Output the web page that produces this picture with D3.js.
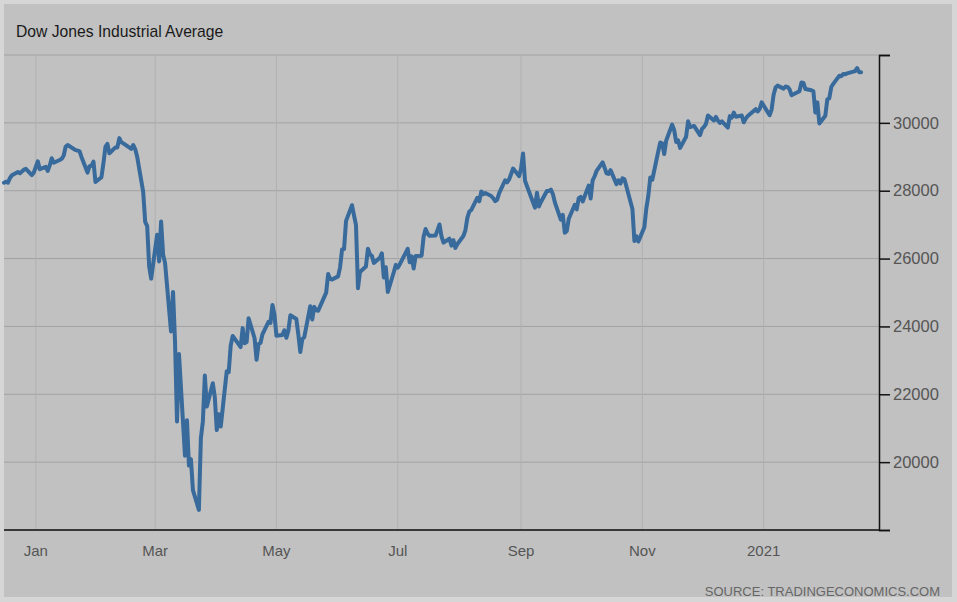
<!DOCTYPE html>
<html lang="en">
<head>
    <meta charset="UTF-8">
    <title>Dow Jones Industrial Average</title>
    <script src="https://d3js.org/d3.v7.min.js"></script>
    <style>
        body {
            margin: 0;
            padding: 0;
            background: #d6d6d6;
            font-family: "Liberation Sans", Arial, sans-serif;
        }
        #chart {
            width: 957px;
            height: 602px;
        }
    </style>
</head>
<body>
    <div id="chart"></div>

    <script>
        // daily closes, Dec 2019 - Feb 2021
        const dates = [
            "2019-12-16","2019-12-17","2019-12-18","2019-12-19","2019-12-20","2019-12-23","2019-12-24","2019-12-26","2019-12-27","2019-12-30","2019-12-31",
            "2020-01-02","2020-01-03","2020-01-06","2020-01-07","2020-01-08","2020-01-09","2020-01-10","2020-01-13","2020-01-14","2020-01-15","2020-01-16","2020-01-17","2020-01-21","2020-01-22","2020-01-23","2020-01-24","2020-01-27","2020-01-28","2020-01-29","2020-01-30","2020-01-31",
            "2020-02-03","2020-02-04","2020-02-05","2020-02-06","2020-02-07","2020-02-10","2020-02-11","2020-02-12","2020-02-13","2020-02-14","2020-02-18","2020-02-19","2020-02-20","2020-02-21","2020-02-24","2020-02-25","2020-02-26","2020-02-27","2020-02-28",
            "2020-03-02","2020-03-03","2020-03-04","2020-03-05","2020-03-06","2020-03-09","2020-03-10","2020-03-11","2020-03-12","2020-03-13","2020-03-16","2020-03-17","2020-03-18","2020-03-19","2020-03-20","2020-03-23","2020-03-24","2020-03-25","2020-03-26","2020-03-27","2020-03-30","2020-03-31",
            "2020-04-01","2020-04-02","2020-04-03","2020-04-06","2020-04-07","2020-04-08","2020-04-09","2020-04-13","2020-04-14","2020-04-15","2020-04-16","2020-04-17","2020-04-20","2020-04-21","2020-04-22","2020-04-23","2020-04-24","2020-04-27","2020-04-28","2020-04-29","2020-04-30",
            "2020-05-01","2020-05-04","2020-05-05","2020-05-06","2020-05-07","2020-05-08","2020-05-11","2020-05-12","2020-05-13","2020-05-14","2020-05-15","2020-05-18","2020-05-19","2020-05-20","2020-05-21","2020-05-22","2020-05-26","2020-05-27","2020-05-28","2020-05-29",
            "2020-06-01","2020-06-02","2020-06-03","2020-06-04","2020-06-05","2020-06-08","2020-06-09","2020-06-10","2020-06-11","2020-06-12","2020-06-15","2020-06-16","2020-06-17","2020-06-18","2020-06-19","2020-06-22","2020-06-23","2020-06-24","2020-06-25","2020-06-26","2020-06-29","2020-06-30",
            "2020-07-01","2020-07-02","2020-07-06","2020-07-07","2020-07-08","2020-07-09","2020-07-10","2020-07-13","2020-07-14","2020-07-15","2020-07-16","2020-07-17","2020-07-20","2020-07-21","2020-07-22","2020-07-23","2020-07-24","2020-07-27","2020-07-28","2020-07-29","2020-07-30","2020-07-31",
            "2020-08-03","2020-08-04","2020-08-05","2020-08-06","2020-08-07","2020-08-10","2020-08-11","2020-08-12","2020-08-13","2020-08-14","2020-08-17","2020-08-18","2020-08-19","2020-08-20","2020-08-21","2020-08-24","2020-08-25","2020-08-26","2020-08-27","2020-08-28","2020-08-31",
            "2020-09-01","2020-09-02","2020-09-03","2020-09-04","2020-09-08","2020-09-09","2020-09-10","2020-09-11","2020-09-14","2020-09-15","2020-09-16","2020-09-17","2020-09-18","2020-09-21","2020-09-22","2020-09-23","2020-09-24","2020-09-25","2020-09-28","2020-09-29","2020-09-30",
            "2020-10-01","2020-10-02","2020-10-05","2020-10-06","2020-10-07","2020-10-08","2020-10-09","2020-10-12","2020-10-13","2020-10-14","2020-10-15","2020-10-16","2020-10-19","2020-10-20","2020-10-21","2020-10-22","2020-10-23","2020-10-26","2020-10-27","2020-10-28","2020-10-29","2020-10-30",
            "2020-11-02","2020-11-03","2020-11-04","2020-11-05","2020-11-06","2020-11-09","2020-11-10","2020-11-11","2020-11-12","2020-11-13","2020-11-16","2020-11-17","2020-11-18","2020-11-19","2020-11-20","2020-11-23","2020-11-24","2020-11-25","2020-11-27","2020-11-30",
            "2020-12-01","2020-12-02","2020-12-03","2020-12-04","2020-12-07","2020-12-08","2020-12-09","2020-12-10","2020-12-11","2020-12-14","2020-12-15","2020-12-16","2020-12-17","2020-12-18","2020-12-21","2020-12-22","2020-12-23","2020-12-24","2020-12-28","2020-12-29","2020-12-30","2020-12-31",
            "2021-01-04","2021-01-05","2021-01-06","2021-01-07","2021-01-08","2021-01-11","2021-01-12","2021-01-13","2021-01-14","2021-01-15","2021-01-19","2021-01-20","2021-01-21","2021-01-22","2021-01-25","2021-01-26","2021-01-27","2021-01-28","2021-01-29",
            "2021-02-01","2021-02-02","2021-02-03","2021-02-04","2021-02-05","2021-02-08","2021-02-09","2021-02-10","2021-02-11","2021-02-12","2021-02-16","2021-02-17","2021-02-18","2021-02-19"
        ];

        const values = [
            28235,28267,28239,28376,28455,28551,28515,28621,28645,28462,28538,
            28868,28634,28703,28583,28745,28956,28823,28907,28940,29030,29297,29348,29196,29186,29160,28989,28535,28723,28734,28859,28256,
            28399,28807,29290,29379,29102,29276,29276,29551,29423,29398,29232,29348,29219,28992,27961,27081,26957,25766,25409,
            26703,25917,27091,26121,25865,23851,25018,23553,21200,23186,20189,21237,19899,20087,19174,18592,20704,21201,22552,21637,22327,21917,
            20944,21413,21053,22680,22654,23434,23720,23391,23950,23505,23538,24242,23650,23019,23475,23516,23775,24134,24102,24634,24346,
            23724,23750,23883,23664,23875,24331,24221,23765,23248,23625,23685,24597,24206,24576,24474,24465,24995,25548,25401,25383,
            25475,25742,26270,26282,27111,27572,27272,26990,25128,25606,25763,26290,26120,26080,25871,26025,26156,25445,25745,25016,25596,25813,
            25734,25827,26287,25890,26067,25706,26075,26086,26643,26870,26735,26672,26681,26840,27005,26652,26470,26585,26380,26540,26314,26428,
            26664,26828,27201,27387,27433,27791,27687,27976,27897,27931,27844,27778,27692,27739,27930,28308,28249,28332,28492,28654,28430,
            28646,29100,28292,28133,27501,27940,27535,27666,27993,27995,28032,27902,27657,27148,27288,26763,26815,27174,27584,27452,27782,
            27817,27683,28149,27773,28303,28426,28587,28838,28680,28514,28494,28606,28195,28309,28211,28364,28336,27685,27463,26520,26659,26502,
            26925,27481,27847,28390,28323,29158,29421,29398,29080,29480,29950,29784,29438,29483,29263,29592,30046,29873,29910,29639,
            29824,29884,29970,30218,30070,30174,30068,29999,30046,29861,30199,30155,30304,30180,30216,30016,30129,30200,30404,30336,30409,30606,
            30224,30392,30829,31041,31098,31009,31069,31061,30992,30814,30930,31188,31176,30997,30960,30937,30303,30603,29983,
            30212,30688,30724,31056,31148,31386,31375,31438,31431,31458,31523,31613,31494,31494
        ];

        const yTicks = [18000, 20000, 22000, 24000, 26000, 28000, 30000, 32000];
        const yLabelTicks = [20000, 22000, 24000, 26000, 28000, 30000];
        const xTickDates = ["2020-01-01","2020-03-01","2020-05-01","2020-07-01","2020-09-01","2020-11-01","2021-01-01"];
        const xTickLabels = ["Jan","Mar","May","Jul","Sep","Nov","2021"];

        const parse = d3.timeParse("%Y-%m-%d");
        const data = dates.map((d, i) => ({ date: parse(d), value: values[i] }));

        const width = 957, height = 602;
        const plotLeft = 4, plotRight = 879, plotTop = 55, plotBottom = 530;

        const svg = d3.select("#chart").append("svg")
            .attr("width", width)
            .attr("height", height);

        // panel
        svg.append("rect")
            .attr("x", 4).attr("y", 4)
            .attr("width", 948).attr("height", 593)
            .attr("fill", "#c1c1c1");

        const x = d3.scaleTime()
            .domain([parse("2019-12-16"), parse("2021-02-28")])
            .range([plotLeft, plotRight]);

        const y = d3.scaleLinear()
            .domain([18000, 32000])
            .range([plotBottom, plotTop]);

        // grid
        svg.append("g")
            .selectAll("line")
            .data(yTicks)
            .enter().append("line")
            .attr("x1", plotLeft).attr("x2", plotRight)
            .attr("y1", d => y(d)).attr("y2", d => y(d))
            .attr("stroke", "#a2a2a2")
            .attr("stroke-width", 1);

        svg.append("g")
            .selectAll("line")
            .data(xTickDates.map(parse))
            .enter().append("line")
            .attr("x1", d => x(d)).attr("x2", d => x(d))
            .attr("y1", plotTop).attr("y2", plotBottom)
            .attr("stroke", "#b0b0b0")
            .attr("stroke-width", 1);

        // line
        const line = d3.line()
            .x(d => x(d.date))
            .y(d => y(d.value));

        svg.append("path")
            .datum(data)
            .attr("fill", "none")
            .attr("stroke", "#386a9c")
            .attr("stroke-width", 4)
            .attr("stroke-linejoin", "round")
            .attr("stroke-linecap", "round")
            .attr("d", line);

        // right axis
        const yAxis = d3.axisRight(y)
            .tickValues(yTicks)
            .tickSize(11)
            .tickPadding(3)
            .tickFormat(d => yLabelTicks.includes(d) ? d : "");

        const ya = svg.append("g")
            .attr("transform", `translate(${plotRight},0)`)
            .call(yAxis);
        ya.select(".domain").attr("stroke", "#111").attr("stroke-width", 1.5);
        ya.selectAll(".tick line").attr("stroke", "#111").attr("stroke-width", 1.5);
        ya.selectAll("text")
            .attr("fill", "#555")
            .style("font-size", "16.5px")
            .style("font-family", "'Liberation Sans', Arial, sans-serif");

        // bottom axis
        svg.append("line")
            .attr("x1", plotLeft).attr("x2", plotRight)
            .attr("y1", plotBottom).attr("y2", plotBottom)
            .attr("stroke", "#111")
            .attr("stroke-width", 1.5);

        svg.append("g")
            .selectAll("text")
            .data(xTickDates)
            .enter().append("text")
            .attr("x", d => x(parse(d)))
            .attr("y", 556)
            .attr("text-anchor", "middle")
            .attr("fill", "#555")
            .style("font-size", "15px")
            .text((d, i) => xTickLabels[i]);

        // title and source
        svg.append("text")
            .attr("x", 16).attr("y", 37)
            .attr("fill", "#1a1a1a")
            .style("font-size", "15.7px")
            .text("Dow Jones Industrial Average");

        svg.append("text")
            .attr("x", 940).attr("y", 596)
            .attr("text-anchor", "end")
            .attr("fill", "#666")
            .style("font-size", "13px")
            .text("SOURCE: TRADINGECONOMICS.COM");
    </script>
</body>
</html>
